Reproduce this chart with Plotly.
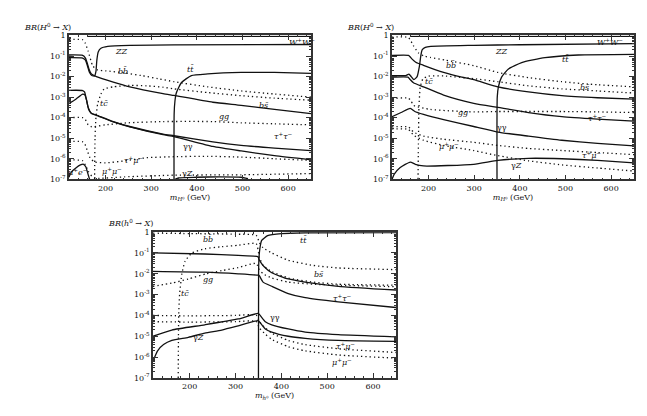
import numpy as np
import plotly.graph_objects as go

# Higgs branching ratios vs mass.
# masses in GeV, branching ratios stored as log10(BR)

# ---------------- top left panel ----------------
p1_ww_m = [160, 250, 400, 650]
p1_ww_br = [-0.04, -0.04, -0.04, -0.04]
p1_zz_m = [120, 150, 156, 160, 165, 170, 176, 179, 181, 184, 190, 205, 253, 350, 650]
p1_zz_br = [-1.08, -1.1, -1.2, -1.45, -1.8, -1.95, -1.97, -1.75, -1.2, -0.8, -0.62, -0.53, -0.48, -0.46, -0.44]
p1_bs_m = [120, 150, 156, 160, 164, 169, 180, 217, 253, 326, 350, 435, 497, 570, 650]
p1_bs_br = [-0.95, -0.97, -1.1, -1.35, -1.65, -1.87, -2.0, -2.27, -2.5, -2.83, -2.92, -3.25, -3.4, -3.6, -3.8]
p1_tt_m = [350, 350.3, 352, 355, 366, 388, 424, 497, 570, 650]
p1_tt_br = [-7, -3.8, -3.2, -2.8, -2.3, -1.95, -1.87, -1.8, -1.8, -1.84]
p1_tau_m = [120, 150, 154, 158, 162, 169, 180, 217, 253, 326, 350, 435, 497, 570, 650]
p1_tau_br = [-2.67, -2.68, -2.75, -3.1, -3.5, -3.78, -3.87, -4.19, -4.43, -4.8, -4.88, -5.18, -5.35, -5.48, -5.6]
p1_aa_m = [120, 135, 150, 155, 159, 163, 169, 180, 217, 253, 326, 350, 435, 497, 570, 650]
p1_aa_br = [-3.31, -3.1, -2.85, -2.9, -3.2, -3.6, -3.8, -3.89, -4.21, -4.45, -4.83, -4.92, -5.4, -5.62, -5.85, -6.05]
p1_mue_m = [120, 125, 135, 145, 152, 157, 161, 165]
p1_mue_br = [-6.9, -6.65, -6.45, -6.3, -6.27, -6.4, -6.7, -7.0]
p1_az_m = [352, 360, 400, 450, 497, 512]
p1_az_br = [-7.0, -6.93, -6.9, -6.88, -6.9, -6.97]
# dotted
p1_bb_m = [120, 150, 155, 162, 172, 183, 200, 242, 278, 315, 350, 424, 497, 570, 650]
p1_bb_br = [-0.19, -0.21, -0.35, -0.76, -1.48, -1.68, -1.72, -1.82, -1.95, -2.1, -2.25, -2.5, -2.7, -2.85, -3.0]
p1_tc_m = [176, 177, 179, 183, 190, 197, 217, 253, 290, 326, 350, 424, 497, 570, 650]
p1_tc_br = [-7, -5, -4, -3.3, -2.85, -2.6, -2.5, -2.43, -2.45, -2.52, -2.6, -2.78, -2.93, -3.05, -3.15]
p1_gg_m = [120, 150, 156, 162, 170, 200, 250, 326, 435, 497, 570, 650]
p1_gg_br = [-4.0, -4.0, -4.1, -4.35, -4.45, -4.35, -4.25, -4.19, -4.19, -4.25, -4.3, -4.35]
p1_tm_m = [120, 150, 155, 160, 166, 175, 200, 242, 290, 350, 424, 497, 570, 650]
p1_tm_br = [-5.15, -5.18, -5.3, -5.6, -5.95, -6.15, -6.2, -6.1, -5.95, -5.9, -5.88, -5.92, -6.0, -6.08]
p1_mm_m = [120, 150, 156, 162, 170, 180, 242, 350, 497, 650]
p1_mm_br = [-6.05, -6.1, -6.3, -6.6, -6.85, -6.95, -6.88, -6.8, -6.78, -6.72]

# ---------------- top right panel ----------------
p2_ww_m = [160, 250, 400, 650]
p2_ww_br = [-0.04, -0.04, -0.04, -0.04]
p2_zz_m = [120, 150, 157, 162, 168, 175, 180, 183, 186, 193, 205, 299, 400, 650]
p2_zz_br = [-1.95, -1.95, -1.88, -2.0, -2.15, -2.0, -1.5, -1.0, -0.7, -0.58, -0.53, -0.48, -0.45, -0.4]
p2_bs_m = [120, 156, 160, 164, 172, 189, 233, 273, 299, 352, 419, 492, 570, 650]
p2_bs_br = [-0.97, -0.97, -1.05, -1.15, -1.3, -1.45, -1.8, -2.03, -2.15, -2.5, -2.75, -2.93, -3.03, -3.1]
p2_tt_m = [350, 350.5, 353, 360, 375, 404, 455, 528, 650]
p2_tt_br = [-7, -3.0, -2.5, -2.03, -1.63, -1.32, -1.08, -0.95, -0.92]
p2_tau_m = [120, 155, 160, 167, 189, 233, 299, 352, 419, 492, 570, 650]
p2_tau_br = [-2.03, -2.03, -2.15, -2.3, -2.5, -2.9, -3.3, -3.5, -3.75, -3.95, -4.07, -4.17]
p2_aa_m = [120, 140, 160, 170, 189, 233, 299, 352, 419, 492, 570, 650]
p2_aa_br = [-3.95, -3.75, -3.55, -3.7, -3.84, -4.1, -4.43, -4.7, -4.9, -5.1, -5.25, -5.37]
p2_az_m = [120, 125, 138, 160, 171, 189, 299, 352, 419, 492, 570, 650]
p2_az_br = [-7.0, -6.75, -6.43, -6.16, -6.27, -6.35, -6.27, -6.08, -5.98, -6.0, -6.08, -6.2]
# dotted
p2_bb_m = [120, 156, 167, 178, 190, 204, 237, 299, 352, 419, 492, 570, 650]
p2_bb_br = [-0.08, -0.1, -0.5, -0.85, -1.0, -1.07, -1.2, -1.47, -1.8, -2.05, -2.25, -2.4, -2.5]
p2_tc_m = [177, 178, 179, 182, 188, 200, 233, 299, 352, 419, 492, 570, 650]
p2_tc_br = [-7, -5, -3.5, -2.5, -2.1, -1.98, -1.97, -2.1, -2.25, -2.45, -2.6, -2.7, -2.8]
p2_gg_m = [120, 156, 162, 167, 204, 299, 352, 419, 492, 570, 650]
p2_gg_br = [-3.07, -3.05, -3.2, -3.4, -3.6, -3.72, -3.7, -3.7, -3.7, -3.72, -3.75]
p2_tm_m = [120, 156, 167, 189, 233, 299, 352, 419, 492, 570, 650]
p2_tm_br = [-4.45, -4.45, -4.7, -4.9, -5.05, -5.2, -5.35, -5.5, -5.6, -5.7, -5.8]
p2_mm_m = [120, 156, 167, 189, 233, 299, 352, 419, 492, 570, 650]
p2_mm_br = [-4.55, -4.57, -4.85, -5.1, -5.35, -5.6, -5.85, -6.1, -6.3, -6.45, -6.6]

# ---------------- bottom panel ----------------
p3_tt_m = [350, 350.3, 351, 353, 357, 370, 400, 452, 650]
p3_tt_br = [-7, -2.0, -1.3, -0.8, -0.4, -0.17, -0.07, -0.03, -0.02]
p3_bs_m = [120, 233, 306, 349, 351, 355, 362, 379, 415, 452, 524, 650]
p3_bs_br = [-1.0, -1.05, -1.12, -1.18, -1.3, -1.45, -1.65, -1.95, -2.25, -2.4, -2.6, -2.78]
p3_tau_m = [120, 233, 306, 349, 352, 360, 379, 415, 452, 524, 650]
p3_tau_br = [-1.88, -1.92, -2.0, -2.07, -2.1, -2.4, -2.6, -2.95, -3.15, -3.35, -3.62]
p3_aa_m = [120, 161, 233, 306, 349, 352, 365, 379, 415, 452, 524, 650]
p3_aa_br = [-5.0, -4.7, -4.45, -4.17, -3.9, -3.95, -4.3, -4.45, -4.65, -4.8, -4.92, -5.03]
p3_az_m = [120, 130, 143, 161, 197, 233, 270, 306, 349, 352, 365, 379, 415, 452, 524, 650]
p3_az_br = [-6.2, -5.7, -5.4, -5.2, -5.05, -4.85, -4.7, -4.5, -4.25, -4.3, -4.65, -4.8, -5.0, -5.1, -5.2, -5.25]
# dotted
p3_bb_m = [120, 200, 300, 345, 352, 360, 379, 415, 470, 524, 650]
p3_bb_br = [-0.05, -0.07, -0.1, -0.15, -0.5, -0.75, -1.0, -1.35, -1.6, -1.72, -1.8]
p3_tc_m = [175, 175.5, 176, 178, 183, 190, 205, 233, 270, 306, 345, 352, 360, 379, 415, 470, 524, 650]
p3_tc_br = [-7, -5, -4, -3, -2, -1.4, -1.0, -0.8, -0.7, -0.63, -0.55, -1.2, -1.6, -1.9, -2.2, -2.4, -2.5, -2.55]
p3_gg_m = [120, 161, 197, 236, 270, 306, 345, 352, 360, 379, 415, 470, 524, 650]
p3_gg_br = [-2.6, -2.45, -2.25, -2.0, -1.85, -1.7, -1.5, -1.8, -2.0, -2.2, -2.4, -2.5, -2.55, -2.62]
p3_tm_m = [120, 200, 300, 345, 352, 365, 379, 415, 452, 524, 650]
p3_tm_br = [-4.0, -4.02, -4.0, -3.98, -4.3, -4.6, -4.85, -5.2, -5.4, -5.6, -5.78]
p3_mm_m = [120, 200, 300, 345, 352, 365, 379, 415, 452, 524, 650]
p3_mm_br = [-4.3, -4.32, -4.3, -4.28, -4.6, -4.9, -5.15, -5.5, -5.7, -5.9, -6.05]

# curve labels: (text, mass, log10 BR)
p1_labels = [("<i>ZZ</i>", 234, -0.8), ("<i>bb̄</i>", 238, -1.75), ("<i>tt̄</i>", 386, -1.65),
             ("<i>tc̄</i>", 196, -3.3), ("<i>bs̄</i>", 546, -3.4), ("<i>gg</i>", 460, -3.95),
             ("<i>τ</i><sup>+</sup><i>τ</i><sup>−</sup>", 590, -4.9), ("γγ", 380, -5.4),
             ("<i>τ</i><sup>+</sup><i>μ</i><sup>−</sup>", 262, -6.05), ("<i>μ</i><sup>+</sup><i>μ</i><sup>−</sup>", 215, -6.6),
             ("<i>μ</i><sup>+</sup><i>e</i><sup>−</sup>", 140, -6.65), ("γ<i>Z</i>", 380, -6.72)]
p2_labels = [("<i>ZZ</i>", 360, -0.76), ("<i>tt̄</i>", 499, -1.16), ("<i>bb̄</i>", 250, -1.45),
             ("<i>tc̄</i>", 202, -2.25), ("<i>bs̄</i>", 543, -2.55), ("<i>gg</i>", 275, -3.75),
             ("<i>τ</i><sup>+</sup><i>τ</i><sup>−</sup>", 570, -4.0), ("γγ", 360, -4.5),
             ("<i>μ</i><sup>+</sup><i>μ</i><sup>−</sup>", 245, -5.4), ("<i>τ</i><sup>+</sup><i>μ</i><sup>−</sup>", 557, -5.84),
             ("γ<i>Z</i>", 393, -6.35)]
p3_labels = [("<i>bb̄</i>", 241, -0.31), ("<i>tt̄</i>", 448, -0.39), ("<i>bs̄</i>", 481, -2.03),
             ("<i>gg</i>", 241, -2.27), ("<i>tc̄</i>", 190, -2.97), ("<i>τ</i><sup>+</sup><i>τ</i><sup>−</sup>", 533, -3.16),
             ("γγ", 386, -4.11), ("γ<i>Z</i>", 219, -5.08), ("<i>τ</i><sup>+</sup><i>μ</i><sup>−</sup>", 539, -5.47),
             ("<i>μ</i><sup>+</sup><i>μ</i><sup>−</sup>", 533, -6.22)]

x_ticks = [200, 300, 400, 500, 600]
y_exps = [0, -1, -2, -3, -4, -5, -6, -7]

FONT = "DejaVu Serif"
INK = "#111"

panels = {
    1: dict(solid=[(p1_ww_m, p1_ww_br), (p1_zz_m, p1_zz_br), (p1_bs_m, p1_bs_br), (p1_tt_m, p1_tt_br),
                   (p1_tau_m, p1_tau_br), (p1_aa_m, p1_aa_br), (p1_mue_m, p1_mue_br), (p1_az_m, p1_az_br)],
            dotted=[(p1_bb_m, p1_bb_br), (p1_tc_m, p1_tc_br), (p1_gg_m, p1_gg_br),
                    (p1_tm_m, p1_tm_br), (p1_mm_m, p1_mm_br)],
            labels=p1_labels),
    2: dict(solid=[(p2_ww_m, p2_ww_br), (p2_zz_m, p2_zz_br), (p2_bs_m, p2_bs_br), (p2_tt_m, p2_tt_br),
                   (p2_tau_m, p2_tau_br), (p2_aa_m, p2_aa_br), (p2_az_m, p2_az_br)],
            dotted=[(p2_bb_m, p2_bb_br), (p2_tc_m, p2_tc_br), (p2_gg_m, p2_gg_br),
                    (p2_tm_m, p2_tm_br), (p2_mm_m, p2_mm_br)],
            labels=p2_labels),
    3: dict(solid=[(p3_tt_m, p3_tt_br), (p3_bs_m, p3_bs_br), (p3_tau_m, p3_tau_br),
                   (p3_aa_m, p3_aa_br), (p3_az_m, p3_az_br)],
            dotted=[(p3_bb_m, p3_bb_br), (p3_tc_m, p3_tc_br), (p3_gg_m, p3_gg_br),
                    (p3_tm_m, p3_tm_br), (p3_mm_m, p3_mm_br)],
            labels=p3_labels),
}

# axis boxes in pixels (left, right, top, bottom) of the 647x416 page
W, H = 647, 416
boxes = {1: (61, 303, 24, 171), 2: (384, 626, 24, 171), 3: (145, 388, 225, 374)}

fig = go.Figure()
annotations = []
minor_y = [m * 10.0 ** k for k in range(-7, 0) for m in range(2, 10)]

for i, p in panels.items():
    xa = "x" if i == 1 else f"x{i}"
    ya = "y" if i == 1 else f"y{i}"
    for m, br in p["solid"]:
        fig.add_trace(go.Scatter(x=m, y=np.power(10.0, br), mode="lines", xaxis=xa, yaxis=ya,
                                 line=dict(color=INK, width=1.3, shape="spline", smoothing=0.5),
                                 showlegend=False, hoverinfo="skip"))
    for m, br in p["dotted"]:
        fig.add_trace(go.Scatter(x=m, y=np.power(10.0, br), mode="lines", xaxis=xa, yaxis=ya,
                                 line=dict(color=INK, width=1.3, dash="1.3px,3px", shape="spline", smoothing=0.5),
                                 showlegend=False, hoverinfo="skip"))
    for txt, m, lg in p["labels"]:
        annotations.append(dict(text=txt, x=m, y=lg, xref=xa, yref=ya, showarrow=False,
                                font=dict(family=FONT, size=8, color=INK)))

    l, r, t, b = boxes[i]
    sym = "h" if i == 3 else "H"
    ax_common = dict(showline=True, mirror="allticks", linecolor="#333", linewidth=1.6,
                     ticks="inside", ticklen=5, tickcolor="#333", showgrid=False, zeroline=False,
                     tickfont=dict(family=FONT, size=8, color=INK))
    fig.update_layout(**{
        ("xaxis" if i == 1 else f"xaxis{i}"): dict(
            ax_common, domain=[l / W, r / W], range=[120, 650], anchor=ya,
            tickvals=x_ticks, minor=dict(dtick=20, ticks="inside", ticklen=2, tickcolor="#333"),
            title=dict(text=f"<i>m</i><sub><i>{sym}</i>⁰</sub> (GeV)", standoff=2,
                       font=dict(family=FONT, size=8, color=INK))),
        ("yaxis" if i == 1 else f"yaxis{i}"): dict(
            ax_common, type="log", domain=[1 - b / H, 1 - t / H], range=[-7, 0], anchor=xa,
            tickvals=[10.0 ** e for e in y_exps],
            ticktext=["1" if e == 0 else f"10<sup>{e}</sup>" for e in y_exps],
            minor=dict(tickvals=minor_y, ticks="inside", ticklen=2, tickcolor="#333")),
    })
    annotations.append(dict(text=f"<i>BR</i>(<i>{sym}</i><sup>0</sup> → <i>X</i>)", x=(l - 47) / W,
                            y=1 - (t - 9) / H, xref="paper", yref="paper", xanchor="left",
                            yanchor="middle", showarrow=False,
                            font=dict(family=FONT, size=8, color=INK)))
    if i != 3:
        annotations.append(dict(text="<i>W</i><sup>+</sup><i>W</i><sup>−</sup>", x=(r - 9) / W,
                                y=1 - t / H, xref="paper", yref="paper", showarrow=False,
                                font=dict(family=FONT, size=8, color=INK)))

fig.update_layout(width=W, height=H, margin=dict(l=0, r=0, t=0, b=0),
                  paper_bgcolor="white", plot_bgcolor="white", annotations=annotations)

fig.write_html("out.html")
